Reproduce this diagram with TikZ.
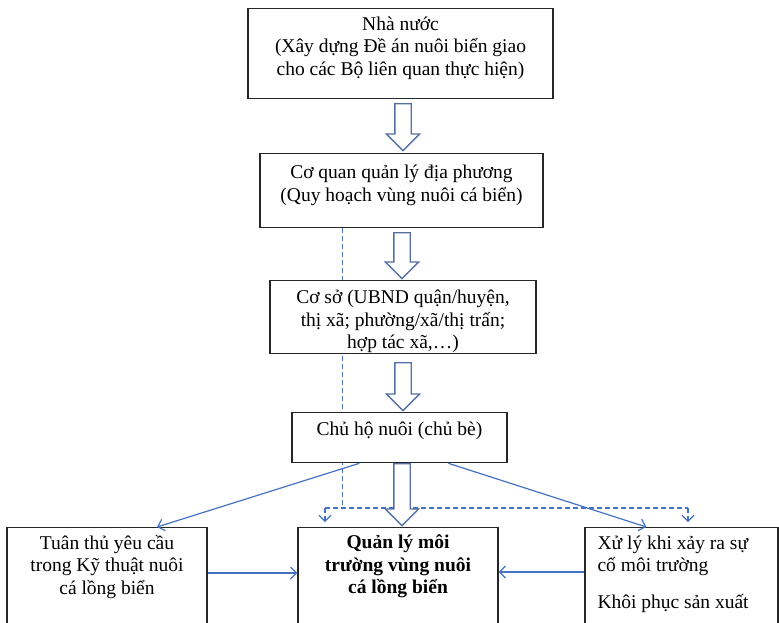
\documentclass[tikz,border=0pt]{standalone}
\usepackage{fontspec}
\setmainfont{Liberation Serif}
\usetikzlibrary{arrows.meta,shapes.arrows,calc,backgrounds}
\definecolor{lineblue}{RGB}{68,114,196}
\definecolor{arrblue}{RGB}{84,112,165}
\begin{document}
\begin{tikzpicture}[x=1pt,y=1pt,box/.style={draw=black!85,line width=1.3pt,fill=white,anchor=north},txt/.style={inner sep=0pt,anchor=north,align=center,font=\fontsize{19.5}{22.5}\selectfont},bigarrow/.style={single arrow,draw=arrblue,line width=1.3pt,fill=white,rotate=-90,anchor=tail,inner xsep=0pt,inner ysep=7.5pt,minimum width=0pt,single arrow head extend=8.5pt,single arrow tip angle=90},link/.style={draw=lineblue,line width=1.2pt,-{Straight Barb[length=6pt,width=12pt]}},dashlink/.style={link,dash pattern=on 5pt off 3pt}]
\def\gap{5};
\useasboundingbox (0,0) rectangle (779,-622);
\clip (0,0) rectangle (779,-622);

% levels
\node[box,minimum width=305,minimum height=90] (nn) at (400.5,-8) {};
\node[txt] (nnt) at ($(nn.north)+(0,-6.5)$) {\strut Nhà nước\\(Xây dựng Đề án nuôi biển giao\\cho các Bộ liên quan thực hiện)};

\node[box,minimum width=283,minimum height=74] (cq) at (401.5,-153) {};
\node[txt] (cqt) at ($(cq.north)+(0,-10)$) {\strut Cơ quan quản lý địa phương\\(Quy hoạch vùng nuôi cá biển)};

\node[box,minimum width=266,minimum height=73] (cs) at (403,-280) {};
\node[txt] (cst) at ($(cs.north)+(0,-8)$) {\strut Cơ sở (UBND quận/huyện,\\thị xã; phường/xã/thị trấn;\\hợp tác xã,\ldots)};

\node[box,minimum width=215,minimum height=50] (ch) at (399.5,-412) {};
\node[txt] (cht) at ($(ch.north)+(0,-7.5)$) {\strut Chủ hộ nuôi (chủ bè)};

% bottom row
\node[box,minimum width=200,minimum height=120] (tt) at (107,-527) {};
\node[txt] (ttt) at ($(tt.north)+(0,-6.5)$) {\strut Tuân thủ yêu cầu\\trong Kỹ thuật nuôi\\cá lồng biển};

\node[box,minimum width=200,minimum height=120] (ql) at (398,-527) {};
\node[txt,font=\fontsize{19.5}{22.5}\selectfont\bfseries] (qlt) at ($(ql.north)+(0,-6)$) {\strut Quản lý môi\\trường vùng nuôi\\cá lồng biển};

\node[box,minimum width=193,minimum height=120] (xl) at (681.5,-527) {};
\node[txt,anchor=north west,align=left] (xlt) at ($(xl.north west)+(13,-6.5)$) {\strut Xử lý khi xảy ra sự\\cố môi trường\\[14.5pt]Khôi phục sản xuất};

% hollow arrows
\node[bigarrow,minimum height=47] (a1) at (403,-98-\gap) {};
\node[bigarrow,minimum height=46] (a2) at (402,-227-\gap) {};
\node[bigarrow,minimum height=48] (a3) at (403,-357-\gap) {};
\node[bigarrow,minimum height=62] (a4) at (402,-463) {};

% dashed lines
\begin{scope}[on background layer]
\coordinate (dtop) at ($(cq.south west)+(83,0)$);
\coordinate (dj) at (dtop |- 0,-508);
\coordinate (dl) at (325,-508);
\coordinate (dr) at (688,-508);
\draw[dashlink,-] (dtop) -- (dj);
\draw[dashlink,-] (dl) -- (dr);
\end{scope}
\draw[dashlink] (dl) -- ($(dl |- ql.north)+(0,\gap)$);
\draw[dashlink] (dr) -- ($(dr |- xl.north)+(0,\gap)$);

% solid arrows
\draw[link] ($(ch.south west)+(68,0)$) -- ($(tt.north)+(50,0)$);
\draw[link] ($(ch.south west)+(157,0)$) -- ($(xl.north west)+(62,0)$);
\draw[link] ($(tt.north east)+(0,-46)$) -- ($(ql.north west)+(0,-46)$);
\draw[link] ($(xl.north west)+(0,-45)$) -- ($(ql.north east)+(0,-45)$);
\end{tikzpicture}
\end{document}
